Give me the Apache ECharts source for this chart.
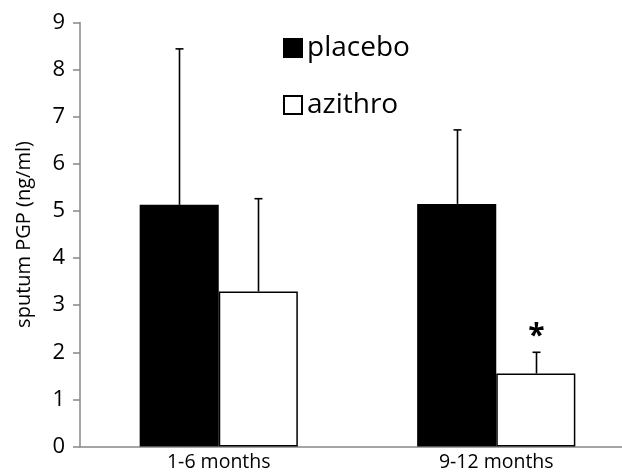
<!DOCTYPE html>
<html>
<head>
<meta charset="utf-8">
<script src="https://cdn.jsdelivr.net/npm/echarts@6/dist/echarts.min.js"></script>
<style>
html,body{margin:0;padding:0;background:#fff;}
#chart{width:622px;height:472px;}
</style>
</head>
<body>
<div id="chart"></div>
<script>
// Sputum PGP by treatment period
const categories = ['1-6 months', '9-12 months'];
const placebo = [5.13, 5.15];
const placeboSD = [3.31, 1.57];
const azithro = [3.29, 1.55];
const azithroSD = [1.97, 0.45];
const azithroMarks = ['', '*'];
const yTicks = [0, 1, 2, 3, 4, 5, 6, 7, 8, 9];

const FONT = 'Open Sans';
const CAT_GAP = 0.43;

function errorSeries(name, means, sds, side, marks) {
  const data = means.map((m, i) => [i, m, m + sds[i], marks ? marks[i] : '']);
  return {
    type: 'custom',
    name: name + ' error',
    z: 5,
    silent: true,
    data: data,
    renderItem: function (params, api) {
      const idx = api.value(0);
      const base = api.coord([idx, api.value(1)]);
      const top = api.coord([idx, api.value(2)]);
      const catW = api.size([1, 0])[0];
      const barW = catW * (1 - CAT_GAP) / 2;
      const x = Math.round(base[0] + side * barW / 2) + 0.5;
      const cap = 4;
      const children = [
        { type: 'line', shape: { x1: x, y1: base[1], x2: x, y2: top[1] },
          style: { stroke: '#000', lineWidth: 1.6 } },
        { type: 'line', shape: { x1: x - cap, y1: top[1], x2: x + cap, y2: top[1] },
          style: { stroke: '#000', lineWidth: 1.6 } }
      ];
      const mark = data[params.dataIndex][3];
      if (mark) {
        children.push({ type: 'text', style: { text: mark, x: x, y: top[1] - 1,
          align: 'center', verticalAlign: 'bottom',
          font: 'bold 30px ' + FONT, fill: '#000' } });
      }
      return { type: 'group', children: children };
    }
  };
}

const chart = echarts.init(document.getElementById('chart'));
chart.setOption({
  animation: false,
  backgroundColor: '#fff',
  textStyle: { fontFamily: FONT },
  grid: { left: 80, width: 555, top: 22.5, bottom: 25.5,
          containLabel: false, outerBoundsMode: 'none' },
  legend: {
    orient: 'vertical',
    left: 278, top: 29,
    itemWidth: 18, itemHeight: 18, itemGap: 29,
    icon: 'rect',
    textStyle: { fontSize: 28, lineHeight: 26, color: '#000', fontFamily: FONT },
    data: ['placebo', 'azithro']
  },
  xAxis: {
    type: 'category',
    data: categories,
    axisLine: { lineStyle: { color: '#888', width: 1.5 } },
    axisTick: { show: false },
    axisLabel: { fontSize: 19.5, color: '#000', margin: 6, fontFamily: FONT }
  },
  yAxis: {
    type: 'value',
    min: yTicks[0], max: yTicks[yTicks.length - 1], interval: 1,
    name: 'sputum PGP (ng/ml)',
    nameLocation: 'middle',
    nameGap: 46,
    nameTextStyle: { fontSize: 20, color: '#000', fontFamily: FONT },
    axisLine: { show: true, lineStyle: { color: '#888', width: 1.5 } },
    axisTick: { show: true, inside: false, length: 7, lineStyle: { color: '#888', width: 1.5 } },
    axisLabel: { fontSize: 22, color: '#000', margin: 15, fontFamily: FONT },
    splitLine: { show: false }
  },
  series: [
    { type: 'bar', name: 'placebo', data: placebo, barGap: '0%', barCategoryGap: '43%',
      itemStyle: { color: '#000', borderColor: '#000', borderWidth: 1.5 } },
    { type: 'bar', name: 'azithro', data: azithro,
      itemStyle: { color: '#fff', borderColor: '#000', borderWidth: 1.5 } },
    errorSeries('placebo', placebo, placeboSD, -1),
    errorSeries('azithro', azithro, azithroSD, 1, azithroMarks)
  ]
});
</script>
</body>
</html>
